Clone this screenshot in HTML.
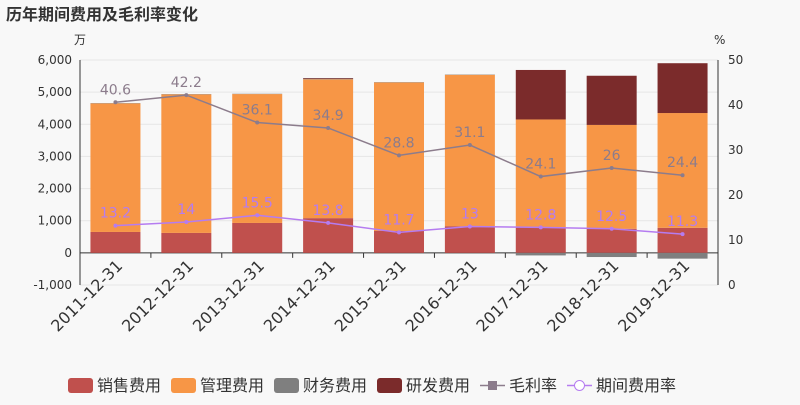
<!DOCTYPE html>
<html><head><meta charset="utf-8"><style>
body{margin:0;background:#f8f8f8;}
svg{font-family:"DejaVu Sans","Noto Sans CJK SC",sans-serif;}
</style></head><body>
<svg id="c" width="800" height="400" xmlns="http://www.w3.org/2000/svg">
<text x="6" y="20" font-size="16" font-weight="bold" fill="#333">历年期间费用及毛利率变化</text>
<text x="74" y="44" font-size="12" fill="#333">万</text>
<text x="714" y="44" font-size="12" fill="#333">%</text>
<g id="g"></g>
</svg>
<script>
const categories=["2011-12-31","2012-12-31","2013-12-31","2014-12-31","2015-12-31","2016-12-31","2017-12-31","2018-12-31","2019-12-31"];
const sales=[650,620,930,1080,680,830,800,750,780];
const admin=[4000,4310,4010,4320,4620,4710,3350,3230,3570];
const finance=[10,10,10,20,10,10,-80,-130,-180];
const rnd=[0,0,0,20,0,0,1540,1530,1550];
const gross=[40.6,42.2,36.1,34.9,28.8,31.1,24.1,26,24.4];
const expRate=[13.2,14,15.5,13.8,11.7,13,12.8,12.5,11.3];
const leftTicks=[-1000,0,1000,2000,3000,4000,5000,6000];
const rightTicks=[0,10,20,30,40,50];
const L=80,R=718,T=60,B=285;
const yL=v=>B-(v+1000)/7000*(B-T);
const yR=v=>B-v/50*(B-T);
const bw=(R-L)/categories.length;
const xc=i=>L+bw*(i+0.5);
const g=document.getElementById('g');
const NS="http://www.w3.org/2000/svg";
function mk(t,a,p){const e=document.createElementNS(NS,t);for(const k in a)e.setAttribute(k,a[k]);(p||g).appendChild(e);return e;}
leftTicks.forEach(v=>{
 const l=mk('line',{x1:L,x2:R,y1:yL(v),y2:yL(v),stroke:v===0?'#333':'#e6e6e6'});
 
 
 const t=mk('text',{x:L-8,y:yL(v)+4,'text-anchor':'end','font-size':12,fill:'#333'});
 t.textContent=v.toLocaleString('en-US');
 
 
});
rightTicks.forEach(v=>{
 const t=mk('text',{x:R+10,y:yR(v)+4,'font-size':12,fill:'#333'});
 t.textContent=v;
 
 
});
mk('line',{x1:L,x2:L,y1:T,y2:B,stroke:'#333'});
mk('line',{x1:R,x2:R,y1:T,y2:B,stroke:'#333'});
const colors=['#c0504d','#f79646','#7f7f7f','#7b2b2b'];
const names=['sales','admin','finance','rnd'];
categories.forEach((c,i)=>{
 let pos=0,neg=0;
 [sales,admin,finance,rnd].forEach((s,k)=>{
  const v=s[i];let y0,y1;
  if(v>=0){y0=pos;y1=pos+v;pos=y1;}else{y0=neg;y1=neg+v;neg=y1;}
  const r=mk('rect',{x:xc(i)-25,width:50,y:Math.min(yL(y0),yL(y1)),height:Math.abs(yL(y0)-yL(y1)),fill:colors[k]});
  
  
 });
 mk('line',{x1:L+bw*(i+1),x2:L+bw*(i+1),y1:yL(0),y2:yL(0)+5,stroke:'#333'});
 const t=mk('text',{transform:`translate(${xc(i)+8},${yL(0)+14}) rotate(-45)`,'text-anchor':'end','font-size':16,fill:'#333'});
 t.textContent=c;
 
 
});
function line(data,col,name){
 const pl=mk('polyline',{points:data.map((v,i)=>xc(i)+','+yR(v)).join(' '),fill:'none',stroke:col,'stroke-width':1.5});
 
 
 data.forEach((v,i)=>{
  const p=mk('circle',{cx:xc(i),cy:yR(v),r:2,fill:col});
  
  
  const t=mk('text',{x:xc(i),y:yR(v)-8,'text-anchor':'middle','font-size':14,fill:col});
  t.textContent=v;
  
  
 });
}
line(gross,'#8c7c8c','gross-margin');
line(expRate,'#b57cf0','expense-rate');
const leg=[['销售费用','#c0504d','r'],['管理费用','#f79646','r'],['财务费用','#7f7f7f','r'],['研发费用','#7b2b2b','r'],['毛利率','#8c7c8c','l'],['期间费用率','#b57cf0','c']];
let lx=68;
leg.forEach(([n,c,s])=>{
 const gg=mk('g',{});
 
 
 if(s==='r')mk('rect',{x:lx,y:378,width:25,height:15,rx:3,fill:c},gg);
 else{mk('line',{x1:lx,x2:lx+25,y1:385.5,y2:385.5,stroke:c,'stroke-width':1.5},gg);
  if(s==='l')mk('rect',{x:lx+8,y:381,width:9,height:9,fill:c},gg);
  else mk('circle',{cx:lx+12.5,cy:385.5,r:5,fill:'#fff',stroke:c},gg);}
 const t=mk('text',{x:lx+29,y:391,'font-size':16,fill:'#333'},gg);t.textContent=n;
 lx+=29+n.length*16+10;
});
</script>
</body></html>
